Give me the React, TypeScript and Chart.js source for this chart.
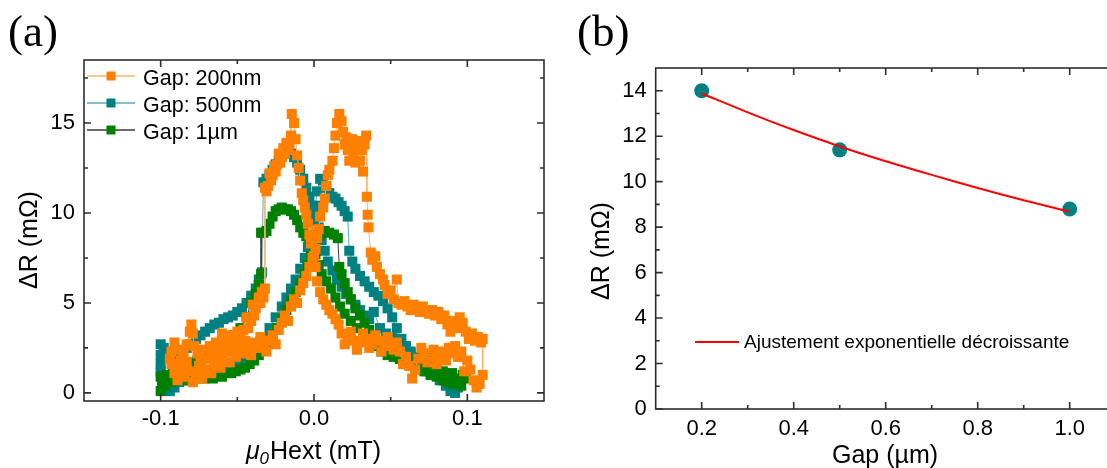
import React, { useEffect, useRef } from "react";
import { Chart, registerables } from "chart.js";

Chart.register(...registerables);

const SANS = "'Liberation Sans', Arial, Helvetica, sans-serif";
const SERIF = "'Liberation Serif', 'Times New Roman', Times, serif";

// ---------------- Panel (a): ΔR vs μ0Hext ----------------
// Gap 200 nm, sweep towards +H
const gap200UpX = [
  -0.093, -0.091, -0.089, -0.087, -0.085, -0.083, -0.081, -0.079, -0.077, -0.075,
  -0.073, -0.071, -0.069, -0.067, -0.065, -0.063, -0.061, -0.059, -0.057, -0.055,
  -0.053, -0.051, -0.049, -0.047, -0.045, -0.043, -0.041, -0.039, -0.037, -0.035,
  -0.033, -0.031, -0.029, -0.027, -0.025, -0.023, -0.021, -0.019, -0.017, -0.015,
  -0.013, -0.011, -0.009, -0.007, -0.005, -0.003, -0.001, 0.001, 0.002, 0.003,
  0.004, 0.006, 0.007, 0.008, 0.009, 0.01, 0.012, 0.013, 0.014, 0.015,
  0.0165, 0.018, 0.019, 0.02, 0.021, 0.022, 0.023, 0.024, 0.025, 0.026,
  0.027, 0.028, 0.029, 0.03, 0.031, 0.032, 0.033, 0.034, 0.0345, 0.035,
  0.0355, 0.037, 0.038, 0.04, 0.041, 0.043, 0.045, 0.046, 0.048, 0.05,
  0.052, 0.054, 0.055, 0.057, 0.059, 0.061, 0.063, 0.065, 0.067, 0.069,
  0.071, 0.073, 0.075, 0.077, 0.079, 0.081, 0.083, 0.085, 0.087, 0.089,
  0.091, 0.093, 0.095, 0.097, 0.099, 0.101, 0.103, 0.105, 0.107, 0.109,
  0.11,
];
const gap200UpY = [
  1.6, 1.1, 0.7, 1.4, 0.9, 1.7, 1.2, 0.6, 1.0, 1.5,
  0.8, 1.3, 1.9, 1.1, 1.6, 2.1, 1.4, 1.8, 2.3, 1.7,
  2.5, 2.0, 2.7, 2.2, 2.9, 2.4, 2.1, 2.8, 2.5, 3.1,
  2.6, 2.3, 2.9, 3.2, 2.7, 3.5, 3.9, 4.3, 4.0, 4.8,
  5.2, 5.0, 5.7, 6.1, 6.5, 7.0, 7.5, 8.0, 8.6, 9.1,
  9.8, 10.3, 10.8, 11.5, 12.1, 12.4, 12.9, 13.6, 14.3, 15.0,
  15.5, 15.1, 14.5, 13.8, 14.2, 13.5, 12.9, 13.7, 14.1, 13.3,
  12.8, 13.6, 14.0, 12.9, 13.5, 12.3, 13.8, 14.3, 10.9, 9.9,
  9.2, 7.8, 7.4, 7.6, 7.0, 6.6, 6.3, 6.0, 5.5, 5.7,
  5.2, 6.3, 5.0, 4.9, 5.1, 4.8, 4.6, 4.9, 4.7, 4.5,
  4.8, 4.6, 4.4, 4.6, 4.3, 4.5, 4.1, 4.3, 3.8, 3.4,
  4.0, 3.6, 4.2, 3.9, 3.4, 3.0, 3.3, 2.9, 3.1, 2.8,
  3.0,
];
// Gap 200 nm, sweep back towards -H
const gap200DownX = [
  0.11, 0.108, 0.106, 0.104, 0.102, 0.1, 0.098, 0.096, 0.094, 0.092,
  0.09, 0.088, 0.086, 0.084, 0.082, 0.08, 0.078, 0.076, 0.074, 0.072,
  0.07, 0.068, 0.066, 0.064, 0.062, 0.06, 0.058, 0.056, 0.054, 0.052,
  0.05, 0.048, 0.046, 0.044, 0.042, 0.04, 0.038, 0.036, 0.034, 0.032,
  0.03, 0.028, 0.026, 0.024, 0.022, 0.02, 0.018, 0.016, 0.014, 0.012,
  0.01, 0.008, 0.006, 0.004, 0.002, 0.001, 0.0, -0.002, -0.003, -0.004,
  -0.005, -0.006, -0.007, -0.008, -0.009, -0.01, -0.011, -0.012, -0.013, -0.0145,
  -0.015, -0.016, -0.017, -0.018, -0.019, -0.02, -0.021, -0.022, -0.023, -0.024,
  -0.025, -0.026, -0.027, -0.028, -0.029, -0.03, -0.031, -0.032, -0.032, -0.033,
  -0.034, -0.035, -0.036, -0.038, -0.039, -0.04, -0.041, -0.043, -0.044, -0.046,
  -0.048, -0.05, -0.052, -0.054, -0.056, -0.058, -0.06, -0.062, -0.064, -0.066,
  -0.068, -0.07, -0.072, -0.074, -0.076, -0.078, -0.079, -0.08, -0.081, -0.083,
  -0.085, -0.087, -0.089, -0.091, -0.093, -0.094,
];
const gap200DownY = [
  1.0, 0.5, 0.3, 0.7, 1.3, 1.8, 1.2, 2.3, 2.0, 2.6,
  2.2, 2.5, 1.8, 2.3, 2.1, 1.6, 2.4, 2.0, 1.7, 2.2,
  2.5, 1.9, 1.3, 0.8, 1.5, 2.0, 1.6, 2.3, 2.8, 2.4,
  2.7, 3.1, 2.6, 2.3, 2.9, 3.2, 2.7, 2.5, 3.0, 3.3,
  2.8, 2.4, 2.9, 3.4, 3.1, 2.7, 3.3, 3.8, 4.1, 4.4,
  4.6, 4.9, 5.2, 5.6, 6.2, 7.0, 7.6, 8.3, 8.8, 9.4,
  9.9, 10.3, 10.7, 11.1, 11.8, 12.5, 13.2, 14.1, 15.0, 15.5,
  14.3, 13.8, 13.5, 13.9, 13.3, 13.6, 13.1, 12.8, 13.3, 12.7,
  12.3, 12.6, 12.1, 11.8, 12.2, 11.5, 11.2, 11.4, 5.8, 5.3,
  5.6, 5.0, 5.3, 4.7, 4.3, 4.9, 4.0, 3.6, 4.2, 3.5,
  3.0, 3.4, 2.8, 3.2, 2.6, 2.9, 3.3, 2.5, 2.8, 2.2,
  2.6, 2.0, 2.4, 1.8, 2.2, 2.6, 3.3, 3.8, 3.4, 2.7,
  2.2, 1.8, 2.4, 2.8, 2.3, 1.9,
];

// Gap 500 nm
const gap500UpX = [
  -0.1, -0.099, -0.097, -0.094, -0.091, -0.088, -0.085, -0.081, -0.077, -0.073,
  -0.069, -0.065, -0.061, -0.057, -0.053, -0.049, -0.045, -0.041, -0.037, -0.033,
  -0.029, -0.025, -0.021, -0.018, -0.015, -0.012, -0.009, -0.006, -0.004, -0.002,
  0.0, 0.001, 0.002, 0.004, 0.006, 0.008, 0.01, 0.012, 0.014, 0.016,
  0.018, 0.02, 0.022, 0.023, 0.025, 0.027, 0.03, 0.033, 0.036, 0.039,
  0.042, 0.045, 0.048, 0.051, 0.054, 0.057, 0.06, 0.063, 0.066, 0.07,
  0.074, 0.078, 0.082, 0.086, 0.089, 0.092, 0.094,
];
const gap500UpY = [
  1.2, 0.7, 0.3, 0.1, 0.3, 0.6, 0.7, 0.8, 0.9, 1.0,
  1.1, 1.2, 1.3, 1.4, 1.6, 1.8, 2.0, 2.3, 2.7, 3.1,
  3.6, 4.2, 4.8, 5.3, 5.8, 6.3, 6.9, 7.5, 8.1, 8.8,
  9.6, 10.4, 11.2, 11.9, 11.8, 11.4, 11.1, 10.9, 10.8, 10.6,
  10.4, 10.1, 9.8, 7.9, 7.3, 6.9, 6.5, 6.2, 5.9, 5.6,
  5.4, 5.1, 4.7, 4.2, 3.6, 3.0, 2.6, 2.2, 1.9, 1.5,
  1.2, 1.0, 0.7, 0.4, 0.1, 0.0, 0.3,
];
const gap500DownX = [
  0.095, 0.091, 0.087, 0.083, 0.079, 0.075, 0.071, 0.067, 0.063, 0.059,
  0.055, 0.051, 0.047, 0.043, 0.039, 0.036, 0.033, 0.03, 0.027, 0.024,
  0.021, 0.018, 0.015, 0.012, 0.009, 0.007, 0.005, 0.003, 0.001, -0.001,
  -0.003, -0.005, -0.007, -0.009, -0.011, -0.013, -0.015, -0.017, -0.019, -0.021,
  -0.023, -0.025, -0.027, -0.029, -0.031, -0.033, -0.034, -0.036, -0.038, -0.041,
  -0.044, -0.047, -0.05, -0.053, -0.056, -0.059, -0.062, -0.065, -0.068, -0.071,
  -0.074, -0.077, -0.08, -0.083, -0.086, -0.089, -0.092, -0.095, -0.098, -0.1,
  -0.1, -0.1,
];
const gap500DownY = [
  0.5, 0.7, 0.9, 1.1, 1.3, 1.5, 1.7, 2.0, 2.3, 2.6,
  2.9, 3.1, 3.3, 3.6, 4.5, 4.1, 4.3, 4.6, 4.9, 5.2,
  5.5, 5.9, 6.3, 6.8, 7.3, 7.9, 8.5, 9.2, 9.9, 10.4,
  10.9, 11.4, 11.9, 12.4, 12.8, 13.1, 13.3, 13.5, 13.4, 13.2,
  12.9, 12.7, 12.4, 12.1, 11.9, 11.7, 6.7, 6.3, 5.8, 5.4,
  5.0, 4.7, 4.5, 4.3, 4.2, 4.1, 3.9, 3.8, 3.6, 3.4,
  3.2, 3.0, 2.7, 2.5, 2.3, 2.1, 2.0, 2.2, 2.5, 2.7,
  2.1, 1.6,
];

// Gap 1 µm
const gap1UpX = [
  -0.1, -0.099, -0.097, -0.095, -0.093, -0.09, -0.087, -0.084, -0.081, -0.078,
  -0.075, -0.072, -0.069, -0.066, -0.063, -0.06, -0.057, -0.054, -0.051, -0.048,
  -0.045, -0.042, -0.039, -0.036, -0.033, -0.03, -0.027, -0.024, -0.021, -0.018,
  -0.015, -0.012, -0.009, -0.006, -0.004, -0.002, 0.0, 0.002, 0.004, 0.007,
  0.01, 0.013, 0.0155, 0.0165, 0.018, 0.02, 0.022, 0.024, 0.027, 0.03,
  0.033, 0.036, 0.04, 0.044, 0.048, 0.052, 0.056, 0.06, 0.064, 0.068,
  0.072, 0.076, 0.08, 0.084, 0.088, 0.091, 0.094, 0.097,
];
const gap1UpY = [
  0.1, 0.6, 0.4, 0.7, 0.6, 0.8, 0.7, 0.8, 0.7, 0.8,
  0.9, 0.8, 0.9, 0.8, 1.0, 0.9, 1.1, 1.1, 1.2, 1.3,
  1.4, 1.6, 1.8, 2.1, 2.4, 2.8, 3.2, 3.6, 4.1, 4.6,
  5.1, 5.6, 6.1, 6.6, 7.1, 7.6, 8.1, 8.5, 8.8, 9.0,
  8.9, 8.8, 8.6, 7.0, 6.6, 6.1, 5.6, 5.2, 4.7, 4.3,
  3.9, 3.5, 3.1, 2.7, 2.4, 2.1, 1.9, 1.7, 1.5, 1.3,
  1.2, 1.0, 0.9, 0.7, 0.6, 0.5, 0.7, 1.0,
];
const gap1DownX = [
  0.099, 0.096, 0.093, 0.09, 0.087, 0.084, 0.08, 0.076, 0.072, 0.068,
  0.064, 0.06, 0.056, 0.052, 0.048, 0.044, 0.04, 0.036, 0.032, 0.028,
  0.024, 0.02, 0.017, 0.014, 0.011, 0.008, 0.005, 0.003, 0.001, -0.001,
  -0.003, -0.005, -0.007, -0.009, -0.011, -0.013, -0.015, -0.017, -0.019, -0.021,
  -0.023, -0.025, -0.027, -0.029, -0.031, -0.033, -0.0345, -0.0345, -0.036, -0.038,
  -0.041, -0.044, -0.048, -0.052, -0.056, -0.06, -0.064, -0.068, -0.072, -0.076,
  -0.08, -0.084, -0.088, -0.092, -0.096, -0.1,
];
const gap1DownY = [
  0.8, 0.4, 0.8, 1.1, 0.9, 1.2, 1.3, 1.4, 1.5, 1.6,
  1.7, 1.8, 1.9, 2.0, 2.1, 2.3, 2.6, 2.9, 3.2, 3.6,
  4.0, 4.4, 4.8, 5.3, 5.8, 6.2, 6.6, 7.1, 7.7, 8.3,
  8.6, 8.7, 8.9, 9.2, 9.6, 9.9, 10.1, 10.2, 10.2, 10.3,
  10.2, 10.1, 9.8, 9.4, 9.0, 8.9, 8.9, 6.6, 6.0, 5.5,
  5.0, 4.2, 3.6, 3.2, 2.9, 2.6, 2.4, 2.2, 2.0, 1.8,
  1.7, 1.5, 1.3, 1.2, 1.0, 0.9,
];

const seriesNamesA = ["Gap: 200nm", "Gap: 500nm", "Gap: 1µm"];
const xTicksA = [-0.1, 0.0, 0.1];
const xMinorA = [-0.05, 0.05];
const yTicksA = [0, 5, 10, 15];
const yMinorA = [2.5, 7.5, 12.5, 17.5];

// ---------------- Panel (b): ΔR vs Gap ----------------
const gapUm = [0.2, 0.5, 1.0];
const deltaRmOhm = [14.0, 11.4, 8.8];
const fitGap = [0.2, 0.3, 0.4, 0.5, 0.6, 0.7, 0.8, 0.9, 1.0];
const fitDeltaR = [13.88, 13.05, 12.27, 11.55, 10.9, 10.3, 9.72, 9.18, 8.68];
const fitLabel = "Ajustement exponentielle décroissante";
const xTicksB = [0.2, 0.4, 0.6, 0.8, 1.0];
const xMinorB = [0.3, 0.5, 0.7, 0.9];
const yTicksB = [0, 2, 4, 6, 8, 10, 12, 14];
const yMinorB = [1, 3, 5, 7, 9, 11, 13];

const pts = (xs: number[], ys: number[]) => xs.map((x, i) => ({ x, y: ys[i] }));

function drawFrame(chart: any, xMajor: number[], xMinor: number[], yMajor: number[], yMinor: number[]) {
  const { ctx, chartArea: a } = chart;
  const sx = chart.scales.x;
  const sy = chart.scales.y;
  ctx.save();
  ctx.strokeStyle = "#2e2e2e";
  ctx.lineWidth = 1.6;
  ctx.strokeRect(a.left, a.top, a.right - a.left, a.bottom - a.top);
  ctx.beginPath();
  const xt = (v: number, len: number) => {
    const p = sx.getPixelForValue(v);
    ctx.moveTo(p, a.bottom);
    ctx.lineTo(p, a.bottom - len);
    ctx.moveTo(p, a.top);
    ctx.lineTo(p, a.top + len);
  };
  const yt = (v: number, len: number) => {
    const p = sy.getPixelForValue(v);
    ctx.moveTo(a.left, p);
    ctx.lineTo(a.left + len, p);
    ctx.moveTo(a.right, p);
    ctx.lineTo(a.right - len, p);
  };
  xMajor.forEach((v) => xt(v, 7));
  xMinor.forEach((v) => xt(v, 4));
  yMajor.forEach((v) => yt(v, 7));
  yMinor.forEach((v) => yt(v, 4));
  ctx.stroke();
  ctx.restore();
}

function drawRotated(ctx: any, text: string, x: number, y: number, font: string) {
  ctx.save();
  ctx.translate(x, y);
  ctx.rotate(-Math.PI / 2);
  ctx.font = font;
  ctx.fillStyle = "#000";
  ctx.textAlign = "center";
  ctx.textBaseline = "alphabetic";
  ctx.fillText(text, 0, 0);
  ctx.restore();
}

function scaleOpts(min: number, max: number, ticks: number[], fmt: (v: number) => string, padding: number, fit: (s: any) => void) {
  return {
    type: "linear",
    min,
    max,
    grid: { display: false, drawTicks: false },
    border: { display: false },
    afterBuildTicks: (s: any) => {
      s.ticks = ticks.map((value) => ({ value }));
    },
    afterFit: fit,
    ticks: {
      callback: (v: any) => fmt(Number(v)),
      font: { family: SANS, size: 22 },
      color: "#000",
      padding,
      autoSkip: false,
      maxRotation: 0,
      minRotation: 0,
    },
  };
}

export default function App() {
  const refA = useRef<HTMLCanvasElement>(null);
  const refB = useRef<HTMLCanvasElement>(null);

  useEffect(() => {
    const legendStyles = [
      { line: "#ffb36e", mark: "#ff8000" },
      { line: "#55b0b0", mark: "#008080" },
      { line: "#3a3a3a", mark: "#008000" },
    ];

    const decorA = {
      id: "decorA",
      afterDraw(chart: any) {
        const ctx = chart.ctx;
        drawFrame(chart, xTicksA, xMinorA, yTicksA, yMinorA);
        ctx.save();
        // legend
        seriesNamesA.forEach((name, i) => {
          const y = 76 + i * 27;
          ctx.strokeStyle = legendStyles[i].line;
          ctx.lineWidth = 1.5;
          ctx.beginPath();
          ctx.moveTo(87, y);
          ctx.lineTo(135, y);
          ctx.stroke();
          ctx.fillStyle = legendStyles[i].mark;
          ctx.fillRect(111 - 4.5, y - 4.5, 9, 9);
          ctx.fillStyle = "#000";
          ctx.font = `21.5px ${SANS}`;
          ctx.textAlign = "left";
          ctx.textBaseline = "alphabetic";
          ctx.fillText(name, 143, y + 9);
        });
        // y title
        drawRotated(ctx, "ΔR (mΩ)", 37, 240, `25px ${SANS}`);
        // x title: μ0Hext (mT)
        const f1 = `italic 25px ${SANS}`;
        const f2 = `italic 17px ${SANS}`;
        const f3 = `25px ${SANS}`;
        ctx.font = f1;
        const w1 = ctx.measureText("μ").width;
        ctx.font = f2;
        const w2 = ctx.measureText("0").width;
        ctx.font = f3;
        const w3 = ctx.measureText("Hext (mT)").width;
        const cx = chart.scales.x.getPixelForValue(0) - 1;
        let x0 = cx - (w1 + w2 + w3) / 2;
        const base = 459;
        ctx.fillStyle = "#000";
        ctx.textAlign = "left";
        ctx.font = f1;
        ctx.fillText("μ", x0, base);
        x0 += w1;
        ctx.font = f2;
        ctx.fillText("0", x0, base + 5);
        x0 += w2 + 1;
        ctx.font = f3;
        ctx.fillText("Hext (mT)", x0, base);
        // panel label
        ctx.font = `45px ${SERIF}`;
        ctx.fillText("(a)", 8, 46);
        ctx.restore();
      },
    };

    const decorB = {
      id: "decorB",
      afterDraw(chart: any) {
        const ctx = chart.ctx;
        drawFrame(chart, xTicksB, xMinorB, yTicksB, yMinorB);
        ctx.save();
        // legend
        ctx.strokeStyle = "#ff0000";
        ctx.lineWidth = 2;
        ctx.beginPath();
        ctx.moveTo(135, 342);
        ctx.lineTo(179, 342);
        ctx.stroke();
        ctx.fillStyle = "#000";
        ctx.font = `19px ${SANS}`;
        ctx.textAlign = "left";
        ctx.textBaseline = "alphabetic";
        ctx.fillText(fitLabel, 184, 348);
        // titles
        drawRotated(ctx, "ΔR (mΩ)", 49, 251, `25px ${SANS}`);
        ctx.font = `25px ${SANS}`;
        ctx.textAlign = "center";
        ctx.fillStyle = "#000";
        ctx.fillText("Gap (µm)", 325, 463);
        ctx.textAlign = "left";
        ctx.font = `45px ${SERIF}`;
        ctx.fillText("(b)", 17, 46);
        ctx.restore();
      },
    };

    const seriesDs = (label: string, data: any[], line: string, mark: string, order: number) => ({
      label,
      data,
      showLine: true,
      borderColor: line,
      borderWidth: 1,
      backgroundColor: mark,
      pointStyle: "rect",
      pointRadius: 7.1,
      pointHoverRadius: 7.1,
      pointBackgroundColor: mark,
      pointBorderColor: mark,
      pointBorderWidth: 0,
      tension: 0,
      order,
    });

    const chartA = new Chart(refA.current as HTMLCanvasElement, {
      type: "scatter",
      data: {
        datasets: [
          seriesDs(seriesNamesA[0], [...pts(gap200UpX, gap200UpY), ...pts(gap200DownX, gap200DownY)], "#ffb36e", "#ff8000", 0),
          seriesDs(seriesNamesA[1], [...pts(gap500UpX, gap500UpY), ...pts(gap500DownX, gap500DownY)], "#55b0b0", "#008080", 2),
          seriesDs(seriesNamesA[2], [...pts(gap1UpX, gap1UpY), ...pts(gap1DownX, gap1DownY)], "#3a3a3a", "#008000", 1),
        ],
      },
      options: {
        animation: false,
        responsive: false,
        events: [],
        layout: { padding: { top: 60, right: 16, left: 0, bottom: 0 } },
        plugins: { legend: { display: false }, tooltip: { enabled: false } },
        scales: {
          x: scaleOpts(-0.15, 0.15, xTicksA, (v) => v.toFixed(1), 5, (s: any) => {
            s.height = 67;
          }) as any,
          y: scaleOpts(-0.45, 18.5, yTicksA, (v) => String(v), 9, (s: any) => {
            s.width = 84;
          }) as any,
        },
      },
      plugins: [decorA],
    } as any);

    const chartB = new Chart(refB.current as HTMLCanvasElement, {
      type: "scatter",
      data: {
        datasets: [
          {
            label: fitLabel,
            data: pts(fitGap, fitDeltaR),
            showLine: true,
            borderColor: "#ff0000",
            borderWidth: 2,
            pointRadius: 0,
            pointHoverRadius: 0,
            tension: 0.3,
            order: 0,
          },
          {
            label: "ΔR",
            data: pts(gapUm, deltaRmOhm),
            showLine: false,
            pointStyle: "circle",
            pointRadius: 7.5,
            pointHoverRadius: 7.5,
            pointBackgroundColor: "#008080",
            pointBorderColor: "#008080",
            pointBorderWidth: 0,
            order: 1,
          },
        ],
      },
      options: {
        animation: false,
        responsive: false,
        events: [],
        layout: { padding: { top: 68, right: 24.3, left: 0, bottom: 0 } },
        plugins: { legend: { display: false }, tooltip: { enabled: false } },
        scales: {
          x: scaleOpts(0.1, 1.1, xTicksB, (v) => v.toFixed(1), 7, (s: any) => {
            s.height = 59;
          }) as any,
          y: scaleOpts(0, 15, yTicksB, (v) => String(v), 9, (s: any) => {
            s.width = 95.7;
          }) as any,
        },
      },
      plugins: [decorB],
    } as any);

    return () => {
      chartA.destroy();
      chartB.destroy();
    };
  }, []);

  return (
    <div
      style={{
        position: "fixed",
        left: 0,
        top: 0,
        width: 1107,
        height: 468,
        overflow: "hidden",
        background: "#ffffff",
      }}
    >
      <canvas
        ref={refA}
        width={560}
        height={468}
        style={{ position: "absolute", left: 0, top: 0, width: 560, height: 468 }}
      />
      <canvas
        ref={refB}
        width={580}
        height={468}
        style={{ position: "absolute", left: 560, top: 0, width: 580, height: 468 }}
      />
    </div>
  );
}
